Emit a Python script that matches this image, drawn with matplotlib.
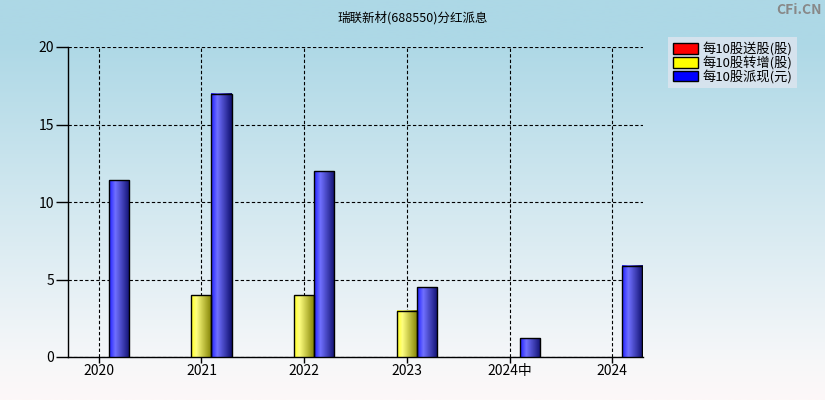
import numpy as np
import matplotlib
matplotlib.use("Agg")
import matplotlib.pyplot as plt
from matplotlib.colors import LinearSegmentedColormap
from matplotlib.patches import Patch

plt.rcParams['font.family'] = ['Noto Sans CJK SC', 'DejaVu Sans']

title = '瑞联新材(688550)分红派息'
categories = ['2020', '2021', '2022', '2023', '2024中', '2024']
song = [0, 0, 0, 0, 0, 0]          # 每10股送股(股)
zhuan = [0, 4, 4, 3, 0, 0]         # 每10股转增(股)
pai = [11.4, 17, 12, 4.5, 1.2, 5.9]  # 每10股派现(元)
labels = ['每10股送股(股)', '每10股转增(股)', '每10股派现(元)']

# bar gradients: bright on the left, dark on the right
cmaps = [
    LinearSegmentedColormap.from_list('r', ['#ff2020', '#ff8080', '#800000']),
    LinearSegmentedColormap.from_list('y', [(0, '#ffff20'), (0.25, '#ffff80'), (1, '#808000')]),
    LinearSegmentedColormap.from_list('b', [(0, '#2020ff'), (0.3, '#7070ff'), (1, '#101070')]),
]
solid = ['#ff0000', '#ffff00', '#0000ff']

fig = plt.figure(figsize=(8.25, 4), dpi=100)

# background gradient over the whole figure
bg = fig.add_axes([0, 0, 1, 1], zorder=-10)
bg_cmap = LinearSegmentedColormap.from_list('bg', [(0, '#add8e6'), (0.1, '#add8e6'), (0.9, '#f6f7f9'), (1, '#fdf8f8')])
bg.imshow(np.linspace(0, 1, 256).reshape(-1, 1), cmap=bg_cmap, aspect='auto', extent=[0, 1, 0, 1])
bg.axis('off')

ax = fig.add_axes([68 / 825, 1 - 357 / 400, 575 / 825, 310 / 400])
ax.set_facecolor('none')

x = np.arange(len(categories))
w = 0.195
for k, vals in enumerate([song, zhuan, pai]):
    off = (k - 1) * w
    grad = np.linspace(0, 1, 64).reshape(1, -1)
    vals = np.array(vals, dtype=float)
    keep = vals > 0
    for xi, v in zip(x[keep], vals[keep]):
        ax.imshow(grad, cmap=cmaps[k], aspect='auto', extent=[xi + off - w / 2, xi + off + w / 2, 0, v], zorder=3)
    ax.bar(x[keep] + off, vals[keep], width=w, facecolor='none', edgecolor='black', linewidth=1, zorder=4)

ax.set_xlim(-0.3, 5.3)
ax.set_ylim(0, 20)
ax.set_yticks([0, 5, 10, 15, 20])
ax.set_xticks(x)
ax.set_xticklabels(categories)
ax.tick_params(axis='y', length=9, width=1, labelsize=10, pad=1)
ax.tick_params(axis='x', length=4, width=1, labelsize=10, pad=1)
ax.grid(True, color='black', linestyle=(0, (3, 2)), linewidth=0.8, zorder=1)
ax.set_axisbelow(True)
for s in ['top', 'right']:
    ax.spines[s].set_visible(False)
for s in ['left', 'bottom']:
    ax.spines[s].set_linewidth(1)

fig.text(0.5, 1 - 18 / 400, title, ha='center', va='center', fontsize=9)
fig.text(822 / 825, 1 - 10 / 400, 'CFi.CN', ha='right', va='center', fontsize=10, color='#888888', fontweight='bold')

handles = [Patch(facecolor=c, edgecolor='black', linewidth=1) for c in solid]
leg = fig.legend(handles, labels, loc='upper left', bbox_to_anchor=(668 / 825, 1 - 37 / 400),
                 fontsize=9.5, frameon=True, fancybox=False, borderpad=0.35, labelspacing=0.0,
                 handlelength=1.9, handleheight=0.9, handletextpad=0.4, borderaxespad=0)
leg.get_frame().set_facecolor('#dfe5ef')
leg.get_frame().set_edgecolor('none')

fig.savefig('out.png', dpi=100)
